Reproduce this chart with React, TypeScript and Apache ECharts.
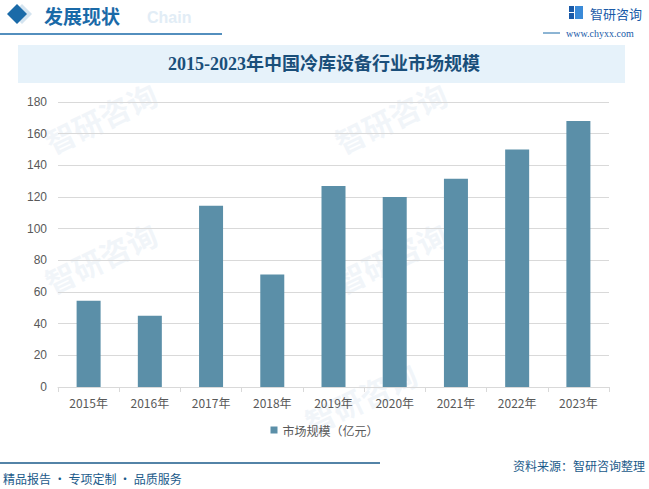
import React, { useEffect, useRef } from "react";
import * as echarts from "echarts";

const categories = ["2015年", "2016年", "2017年", "2018年", "2019年", "2020年", "2021年", "2022年", "2023年"];
const marketSize = [54.5, 45, 114.5, 71, 127, 120, 131.5, 150, 168];
const seriesName = "市场规模（亿元）";
const chartTitle = "2015-2023年中国冷库设备行业市场规模";
const yTicks = { min: 0, max: 180, interval: 20 };

const CJK = "'Noto Sans CJK SC', sans-serif";
const SERIF = "'Liberation Serif', 'Noto Sans CJK SC', serif";

export default function App() {
  const ref = useRef<HTMLDivElement>(null);
  useEffect(() => {
    if (!ref.current) return;
    const chart = echarts.init(ref.current, undefined, { renderer: "svg" });
    const watermarks: any[] = [];
    const wmPos = [
      [40, 130], [330, 130], [40, 270], [330, 270], [300, 410],
    ];
    wmPos.forEach(([x, y]) => {
      watermarks.push({
        type: "text",
        x,
        y,
        rotation: Math.PI / 7,
        silent: true,
        z: -10,
        style: { text: "智研咨询", fill: "rgba(215,228,240,0.35)", font: `bold 30px ${CJK}` },
      });
    });
    chart.setOption({
      animation: false,
      backgroundColor: "#ffffff",
      grid: { left: 58, right: 40, top: 102, bottom: 102 },
      legend: {
        bottom: 48,
        left: "center",
        itemWidth: 7,
        itemHeight: 7,
        icon: "rect",
        textStyle: { color: "#595959", fontSize: 12, fontFamily: CJK },
        data: [seriesName],
      },
      xAxis: {
        type: "category",
        data: categories,
        axisLine: { lineStyle: { color: "#d9d9d9" } },
        axisTick: { show: true, alignWithLabel: false, length: 5, lineStyle: { color: "#d9d9d9" } },
        axisLabel: { color: "#595959", fontSize: 12, margin: 9, fontFamily: CJK },
      },
      yAxis: {
        type: "value",
        min: yTicks.min,
        max: yTicks.max,
        interval: yTicks.interval,
        axisLine: { show: false },
        axisTick: { show: false },
        axisLabel: { color: "#595959", fontSize: 12, margin: 11, fontFamily: "'Liberation Sans', sans-serif" },
        splitLine: { lineStyle: { color: "#d9d9d9" } },
      },
      series: [
        {
          name: seriesName,
          type: "bar",
          data: marketSize,
          barWidth: 24,
          itemStyle: { color: "#5b8fa8" },
        },
      ],
      graphic: [
        ...watermarks,
        // header icons
        { type: "polygon", shape: { points: [[22, 4], [32, 14], [22, 24], [12, 14]] }, style: { fill: "#d4e4f0" } },
        { type: "polygon", shape: { points: [[17, 4], [27, 14], [17, 24], [7, 14]] }, style: { fill: "#1a6aa8" } },
        { type: "text", x: 147, y: 17, style: { text: "Chain", fill: "#e2edf6", font: `bold 16px 'Liberation Sans', sans-serif`, verticalAlign: "middle" } },
        { type: "text", x: 44, y: 15, style: { text: "发展现状", fill: "#1a6aa8", font: `bold 19px ${CJK}`, verticalAlign: "middle" } },
        { type: "line", shape: { x1: 0, y1: 34, x2: 222, y2: 34 }, style: { stroke: "#1a6aa8", lineWidth: 1.5 } },
        // logo right
        { type: "rect", shape: { x: 569, y: 6, width: 5, height: 6 }, style: { fill: "#1a5aa8" } },
        { type: "rect", shape: { x: 569, y: 13, width: 5, height: 6 }, style: { fill: "#1a5aa8" } },
        { type: "rect", shape: { x: 575, y: 6, width: 8, height: 13 }, style: { fill: "#3a8ad8" } },
        { type: "text", x: 590, y: 13, style: { text: "智研咨询", fill: "#1a5aa8", font: `13px ${CJK}`, verticalAlign: "middle" } },
        { type: "text", x: 566, y: 28, style: { text: "www.chyxx.com", fill: "#1a5aa8", font: `10px ${SERIF}` } },
        { type: "line", shape: { x1: 543, y1: 33, x2: 560, y2: 33 }, style: { stroke: "#1a6aa8", lineWidth: 1 } },
        // title band
        { type: "rect", shape: { x: 18, y: 45, width: 607, height: 38 }, style: { fill: "#e6f2fa" } },
        {
          type: "text",
          x: 324,
          y: 64,
          style: {
            text: chartTitle,
            fill: "#1a4f7a",
            font: `bold 18px ${SERIF}`,
            align: "center",
            verticalAlign: "middle",
          },
        },
        // footer
        { type: "line", shape: { x1: 0, y1: 463, x2: 380, y2: 463 }, style: { stroke: "#1a5a8a", lineWidth: 1.5 } },
        { type: "text", x: 645, y: 459, style: { text: "资料来源：智研咨询整理", fill: "#1a5a8a", font: `12px ${CJK}`, align: "right" } },
        { type: "text", x: 3, y: 472, style: { text: "精品报告 · 专项定制 · 品质服务", fill: "#1a5a8a", font: `12px ${CJK}` } },
      ],
    });
    return () => chart.dispose();
  }, []);
  return <div ref={ref} style={{ position: "fixed", left: 0, top: 0, width: 649, height: 489 }} />;
}
